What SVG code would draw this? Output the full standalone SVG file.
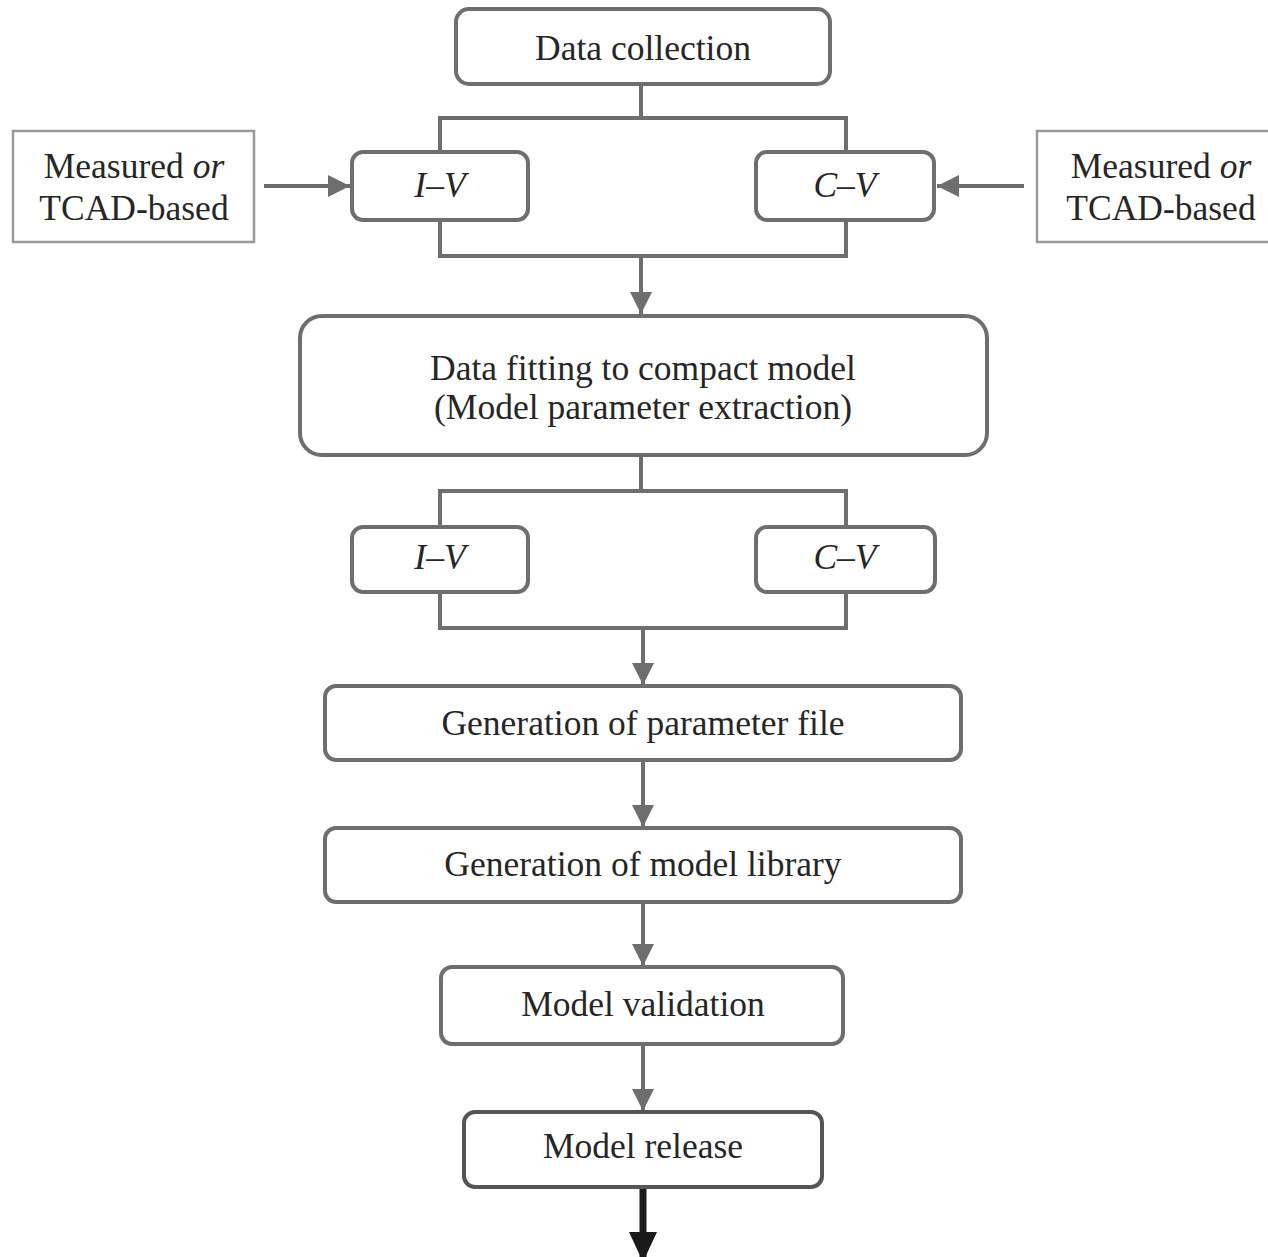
<svg xmlns="http://www.w3.org/2000/svg" width="1268" height="1257" viewBox="0 0 1268 1257">
  <style>
    .box { fill: #ffffff; stroke: #6e6e6e; stroke-width: 4; }
    .src { fill: #ffffff; stroke: #9a9a9a; stroke-width: 2.5; }
    .wire { fill: none; stroke: #6e6e6e; stroke-width: 4; }
    .lbl { font-family: "Liberation Serif", "Times New Roman", serif; font-size: 35.5px; fill: #262626; text-anchor: middle; }
    .it { font-style: italic; }
  </style>
  <defs>
    <marker id="arrow" markerUnits="userSpaceOnUse" markerWidth="24" markerHeight="24" refX="22" refY="11" orient="auto">
      <path d="M0,0 L22,11 L0,22 Z" fill="#6e6e6e"/>
    </marker>
    <marker id="arrowDark" markerUnits="userSpaceOnUse" markerWidth="30" markerHeight="34" refX="30" refY="14" orient="auto">
      <path d="M0,0 L30,14 L0,28 Z" fill="#1a1a1a"/>
    </marker>
  </defs>

  <!-- connectors -->
  <g id="connectors">
    <!-- fan-out from data collection -->
    <path class="wire" d="M641,84 V118 M440,152 V118 H846 V152"/>
    <path class="wire" d="M440,220 V256 H846 V220"/>
    <line class="wire" x1="641" y1="256" x2="641" y2="314" marker-end="url(#arrow)"/>
    <!-- source inputs -->
    <line class="wire" x1="264" y1="186" x2="350" y2="186" marker-end="url(#arrow)"/>
    <line class="wire" x1="1024" y1="186" x2="937" y2="186" marker-end="url(#arrow)"/>
    <!-- fan-out from fitting -->
    <path class="wire" d="M641,455 V491 M440,527 V491 H846 V527"/>
    <path class="wire" d="M440,592 V628 H846 V592"/>
    <line class="wire" x1="643" y1="628" x2="643" y2="685" marker-end="url(#arrow)"/>
    <line class="wire" x1="643" y1="760" x2="643" y2="827" marker-end="url(#arrow)"/>
    <line class="wire" x1="643" y1="902" x2="643" y2="966" marker-end="url(#arrow)"/>
    <line class="wire" x1="643" y1="1044" x2="643" y2="1111" marker-end="url(#arrow)"/>
    <line x1="643" y1="1187" x2="643" y2="1262" stroke="#1a1a1a" stroke-width="7" marker-end="url(#arrowDark)"/>
  </g>

  <g id="data-collection">
    <rect class="box" x="456" y="9" width="374" height="75" rx="13"/>
    <text class="lbl" x="643" y="60">Data collection</text>
  </g>

  <g id="source-left">
    <rect class="src" x="13" y="131" width="241" height="111"/>
    <text class="lbl" x="134" y="178">Measured <tspan class="it">or</tspan></text>
    <text class="lbl" x="134" y="220">TCAD-based</text>
  </g>

  <g id="source-right">
    <rect class="src" x="1037" y="131" width="240" height="111"/>
    <text class="lbl" x="1161" y="178">Measured <tspan class="it">or</tspan></text>
    <text class="lbl" x="1161" y="220">TCAD-based</text>
  </g>

  <g id="iv-data">
    <rect class="box" x="352" y="152" width="176" height="68" rx="11"/>
    <text class="lbl it" x="440" y="197">I–V</text>
  </g>

  <g id="cv-data">
    <rect class="box" x="756" y="152" width="178" height="68" rx="11"/>
    <text class="lbl it" x="845" y="197">C–V</text>
  </g>

  <g id="data-fitting">
    <rect class="box" x="300" y="316" width="687" height="139" rx="22"/>
    <text class="lbl" x="643" y="380">Data fitting to compact model</text>
    <text class="lbl" x="643" y="419">(Model parameter extraction)</text>
  </g>

  <g id="iv-fit">
    <rect class="box" x="352" y="527" width="176" height="65" rx="11"/>
    <text class="lbl it" x="440" y="569">I–V</text>
  </g>

  <g id="cv-fit">
    <rect class="box" x="756" y="527" width="179" height="65" rx="11"/>
    <text class="lbl it" x="845" y="569">C–V</text>
  </g>

  <g id="parameter-file">
    <rect class="box" x="325" y="686" width="636" height="74" rx="11"/>
    <text class="lbl" x="643" y="735">Generation of parameter file</text>
  </g>

  <g id="model-library">
    <rect class="box" x="325" y="828" width="636" height="74" rx="11"/>
    <text class="lbl" x="643" y="876">Generation of model library</text>
  </g>

  <g id="model-validation">
    <rect class="box" x="441" y="967" width="402" height="77" rx="11"/>
    <text class="lbl" x="643" y="1016">Model validation</text>
  </g>

  <g id="model-release">
    <rect class="box" x="464" y="1112" width="358" height="75" rx="11" style="stroke:#555555"/>
    <text class="lbl" x="643" y="1158">Model release</text>
  </g>
</svg>
